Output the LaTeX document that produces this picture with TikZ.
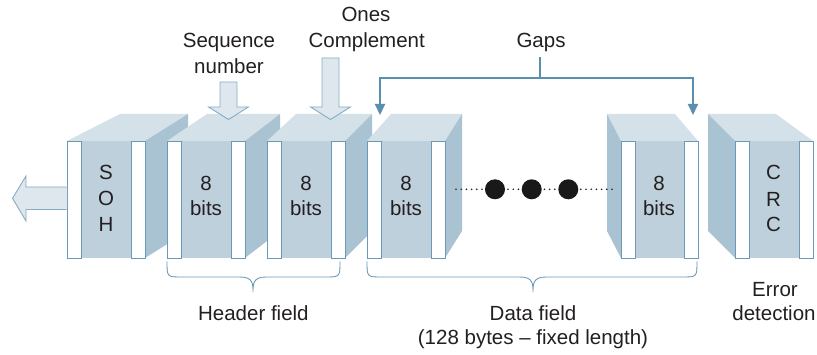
\documentclass[tikz,border=0pt]{standalone}
\usepackage{fontspec}
\setmainfont{Liberation Sans}
\usetikzlibrary{arrows.meta}
\definecolor{frontc}{HTML}{BED0DC}
\definecolor{topc}{HTML}{D4E1E9}
\definecolor{sidec}{HTML}{A9C3D2}
\definecolor{edgec}{HTML}{6A9AB8}
\definecolor{gapc}{HTML}{5A8FB0}
\definecolor{arrfill}{HTML}{DDE7ED}
\definecolor{arredge}{HTML}{86ADC5}
\definecolor{txtc}{HTML}{231F20}
\newcommand\rblock[4]{%
  \fill[topc] (#1,141) -- (#1+#3,114) -- (#2+#4,114) -- (#2,141) -- cycle;
  \fill[sidec] (#2,141) -- (#2+#4,114) -- (#2+#4,231) -- (#2,258) -- cycle;
  \fill[frontc] (#1,141) rectangle (#2,258);
  \draw[stripbox] (#1,141) rectangle (#1+14,258);
  \draw[stripbox] (#2-14,141) rectangle (#2,258);
}
\newcommand\lblock[4]{%
  \fill[topc] (#1,141) -- (#1+#3,114) -- (#2+#4,114) -- (#2,141) -- cycle;
  \fill[sidec] (#1,141) -- (#1+#3,114) -- (#1+#3,231) -- (#1,258) -- cycle;
  \fill[frontc] (#1,141) rectangle (#2,258);
  \draw[stripbox] (#1,141) rectangle (#1+14,258);
  \draw[stripbox] (#2-14,141) rectangle (#2,258);
}
\tikzset{
  stripbox/.style={draw=edgec, fill=white, line width=0.9pt},
  lbl/.style={anchor=base, inner sep=0pt, text=txtc, font=\fontsize{20.5}{25}\selectfont},
  blockarrow/.style={draw=arredge, fill=arrfill, line width=0.9pt, line join=miter},
  gapline/.style={draw=gapc, line width=2pt},
  bracec/.style={draw=edgec, line width=0.9pt},
}
\begin{document}
\begin{tikzpicture}[x=1pt,y=-1pt]
\useasboundingbox (0,0) rectangle (817,355);
% blocks
\rblock{67}{145}{53}{43}
\rblock{167}{245}{40}{35}
\rblock{267}{345}{29}{27}
\rblock{367}{445}{24}{17}
\lblock{621}{698}{-14}{-23}
\lblock{735}{813}{-27}{-37}
% left arrow
\fill[arrfill] (67,187) -- (26,187) -- (26,176) -- (12.5,198.3) -- (26,221) -- (26,209.5) -- (67,209.5) -- cycle;
\draw[blockarrow] (66.5,187) -- (26,187) -- (26,176) -- (12.5,198.3) -- (26,221) -- (26,209.5) -- (66.5,209.5);
% down arrows
\draw[blockarrow] (220,82) -- (237,82) -- (237,107) -- (248.5,107) -- (228.5,119.5) -- (208.5,107) -- (220,107) -- cycle;
\draw[blockarrow] (322,58) -- (339,58) -- (339,107) -- (350.5,107) -- (330.5,119.5) -- (310.5,107) -- (322,107) -- cycle;
% texts in blocks
\node[lbl] (s1) at (106,180) {S};
\node[lbl] (s2) at (106,206) {O};
\node[lbl] (s3) at (106,232) {H};
\foreach \cx/\nm in {206/b, 306/c, 406/d, 659/e} {
  \node[lbl] (\nm8) at (\cx,190.7) {8};
  \node[lbl] (\nm bits) at (\cx,216) {bits};
}
\node[lbl] (c1) at (773.5,180) {C};
\node[lbl] (c2) at (773.5,206.5) {R};
\node[lbl] (c3) at (773.5,232) {C};
% dotted line and dots
\draw[txtc, line width=1.8pt, line cap=round, dash pattern=on 0pt off 5.2pt] (456,189.3) -- (613,189.3);
\fill[black!90] (495,189.3) circle (10);
\fill[black!90] (531.7,189.3) circle (10);
\fill[black!90] (568.3,189.3) circle (10);
% top labels
\node[lbl] (seq1) at (229,48) {Sequence};
\node[lbl] (seq2) at (229,74) {number};
\node[lbl] (one1) at (366,21.7) {Ones};
\node[lbl] (one2) at (366.7,48) {Complement};
\node[lbl] (gaps) at (541,48) {Gaps};
% gaps connectors
\coordinate (gtop) at (540,57);
\coordinate (gmid) at (540,78);
\coordinate (gl) at (380,78);
\coordinate (gr) at (693,78);
\coordinate (gle) at (380,115);
\coordinate (gre) at (693,115);
\draw[gapline] (gtop) -- (gmid);
\draw[gapline, -{Triangle[length=11pt,width=10pt]}] (gmid) -- (gl) -- (gle);
\draw[gapline, -{Triangle[length=11pt,width=10pt]}] (gmid) -- (gr) -- (gre);
% braces
\draw[bracec] (167,261.5) .. controls (167,277) .. (182,277) -- (240,277) .. controls (253,277) and (253,284) .. (253,292)
  .. controls (253,284) and (253,277) .. (266,277) -- (325,277) .. controls (340,277) .. (340,261.5);
\draw[bracec] (367,261.5) .. controls (367,277) .. (382,277) -- (520,277) .. controls (533,277) and (533,284) .. (533,292)
  .. controls (533,284) and (533,277) .. (546,277) -- (682,277) .. controls (697,277) .. (697,261.5);
% bottom labels
\node[lbl] (hdr) at (253.4,320.7) {Header field};
\node[lbl] (dat1) at (533,320.7) {Data field};
\node[lbl] (dat2) at (533,345) {(128 bytes – fixed length)};
\node[lbl] (err1) at (775,297) {Error};
\node[lbl] (err2) at (774,321) {detection};
\end{tikzpicture}
\end{document}
